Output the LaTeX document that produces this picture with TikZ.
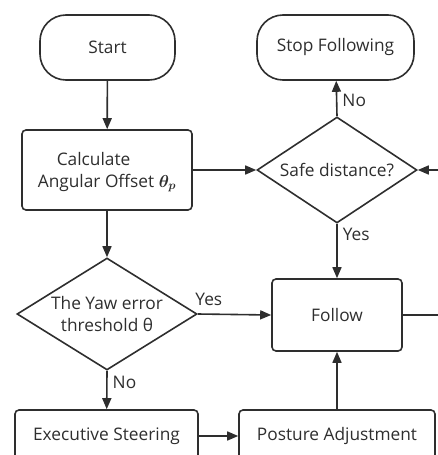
\documentclass[tikz,border=0pt]{standalone}
\usepackage{amsmath,bm}
\usepackage{fontspec}
\setmainfont{Open Sans}
\usetikzlibrary{arrows.meta,shapes.geometric}
\definecolor{ink}{HTML}{2E2E2E}
\tikzset{
  every node/.style={font=\fontsize{17.3}{22}\selectfont, text=ink},
  terminal/.style={draw=ink, line width=1.6pt, rounded corners=26pt, minimum width=135pt, minimum height=65pt, inner sep=0pt},
  procbox/.style={draw=ink, line width=1.6pt, rounded corners=4pt, inner sep=0pt},
  decision/.style={draw=ink, line width=1.6pt, shape=diamond, inner sep=0pt},
  flow/.style={draw=ink, line width=1.6pt, -{Triangle[length=11pt,width=9pt]}},
  plain/.style={draw=ink, line width=1.6pt},
  lbl/.style={inner sep=1pt},
}
\begin{document}
\begin{tikzpicture}[x=1pt,y=-1pt]
\useasboundingbox (0,0) rectangle (438,455);
% terminals
\node[terminal] (start) at (107.5,47.5) {Start};
\node[terminal, minimum width=157pt] (stop) at (335.5,47.5) {Stop Following};
% processes
\node[procbox, minimum width=170pt, minimum height=80pt] (calc) at (107,170) {};
\node[align=left] (calctxt) at (107,172) {\hspace{19pt}Calculate\\Angular Offset $\bm{\theta_p}$};
\node[procbox, minimum width=130pt, minimum height=72pt] (follow) at (337,315) {Follow};
\node[procbox, minimum width=183pt, minimum height=52pt] (exec) at (106.5,436) {Executive Steering};
\node[procbox, minimum width=196pt, minimum height=52pt] (post) at (337,436) {Posture Adjustment};
% decisions
\node[decision, minimum width=160pt, minimum height=106pt] (safe) at (337,170) {};
\node (safetxt) at (337,170) {Safe distance?};
\node[decision, minimum width=180pt, minimum height=112pt] (yaw) at (107,314) {};
\node[align=center] (yawtxt) at (107,314) {The Yaw error\\threshold θ};
% loose ends at the right edge
\coordinate (inR) at (438,170);
\coordinate (outR) at (438,315);
% connectors
\path[flow] (start) -- (calc);
\path[flow] (calc) -- (safe);
\path[flow] (inR) -- (safe.east);
\path[flow] (safe.north) -- node[lbl, right=4pt, pos=0.45] (no1) {No} (stop);
\path[flow] (safe.south) -- node[lbl, right=4pt, pos=0.2] (yes1) {Yes} (follow);
\path[flow] (calc) -- (yaw.north);
\path[flow] (yaw.east) -- node[lbl, above, pos=0.15, yshift=7pt] (yes2) {Yes} (follow.west);
\path[flow] (yaw.south) -- node[lbl, right=4pt, pos=0.3] (no2) {No} (exec);
\path[flow] (exec.east) -- (post.west);
\path[flow] (post) -- (follow);
\path[plain] (follow.east) -- (outR);
\end{tikzpicture}
\end{document}
